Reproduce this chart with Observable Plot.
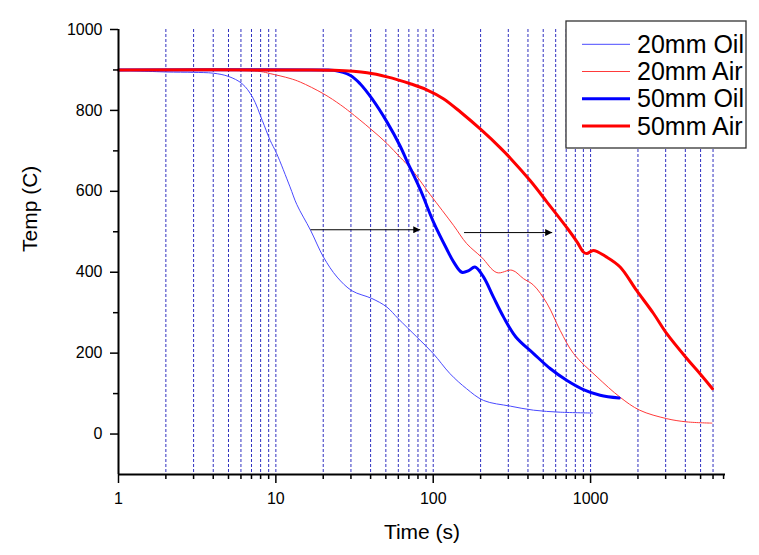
<!DOCTYPE html>
<html>
<head>
<meta charset="utf-8">
<script src="https://cdn.jsdelivr.net/npm/d3@7"></script>
<script src="https://cdn.jsdelivr.net/npm/@observablehq/plot@0.6"></script>
<style>
  html, body { margin: 0; padding: 0; background: white; }
  #chart { width: 759px; height: 555px; }
</style>
</head>
<body>
<div id="chart"></div>
<script>
// ---- Data ----
const seriesNames = ["20mm Oil", "20mm Air", "50mm Oil", "50mm Air"];

const oil20Time = [1, 2, 3, 4, 5, 6.1, 7.1, 8.2, 9.2, 10.1, 12.3, 13.6, 16.6, 20.1, 24.5, 30.5, 40.8, 50.7, 60, 78.6, 100, 128, 163, 209, 309, 434, 641, 1030];
const oil20Temp = [900, 895, 894, 892, 884, 866, 833, 775, 726, 694, 611, 567, 504, 437, 388, 354, 335, 314, 285, 240, 199, 149, 112, 83, 69, 59, 54, 52];

const air20Time = [1, 5, 8, 9.2, 12.3, 14.3, 20.1, 25.7, 29.6, 39.8, 50.9, 61.6, 71.5, 95.6, 134.5, 163, 203, 254, 317, 375, 434, 530, 641, 779, 1100, 1540, 2050, 3050, 4100, 5900];
const air20Temp = [900, 899, 896, 891, 879, 870, 841, 814, 796, 755, 718, 684, 658, 592, 516, 471, 437, 399, 405, 384, 368, 322, 256, 199, 141, 91, 59, 38, 30, 27];

const oil50Time = [1, 20, 23.4, 29.6, 34.3, 40.8, 50.9, 61.6, 67.5, 82.8, 100.4, 121.6, 135, 152, 168, 184, 209, 241, 280, 335, 434, 553, 704, 900, 1150, 1520];
const oil50Temp = [900, 900, 899, 887, 866, 829, 771, 712, 678, 604, 524, 458, 425, 400, 404, 413, 388, 339, 289, 240, 199, 162, 133, 110, 96, 89];

const air50Time = [1, 14.3, 23.4, 38, 50.9, 71.5, 91, 116, 149, 203, 266, 309, 414, 527, 723, 820, 900, 945, 1040, 1260, 1540, 1960, 2510, 3050, 4100, 4960, 5950];
const air50Temp = [900, 900, 899, 893, 883, 866, 851, 829, 796, 751, 708, 682, 626, 574, 505, 475, 450, 446, 454, 438, 413, 355, 298, 248, 186, 149, 112];

const arrowStartTime = [16.6, 157];
const arrowEndTime = [82.7, 570];
const arrowTemp = [505, 498];

const xMajorTicks = [1, 10, 100, 1000];
const xMinorTicks = [2,3,4,5,6,7,8,9, 20,30,40,50,60,70,80,90, 200,300,400,500,600,700,800,900, 2000,3000,4000,5000,6000,7000];
const xGridLines = [2,3,4,5,6,7,8,9,10, 20,30,40,50,60,70,80,90,100, 200,300,400,500,600,700,800,900,1000, 2000,3000,4000,5000,6000];
const yMajorTicks = [0, 200, 400, 600, 800, 1000];
const yMinorTicks = [100, 300, 500, 700, 900];

// ---- Build tables ----
const toRows = (ts, vs) => ts.map((t, i) => ({t, T: vs[i]}));
const oil20 = toRows(oil20Time, oil20Temp);
const air20 = toRows(air20Time, air20Temp);
const oil50 = toRows(oil50Time, oil50Temp);
const air50 = toRows(air50Time, air50Temp);
const arrows = arrowStartTime.map((t1, i) => ({t1, t2: arrowEndTime[i], T: arrowTemp[i]}));

const colors = ["#4a4aff", "#ff3a3a", "#0000ff", "#ff0000"];
const widths = [1, 1, 3, 3];
const font = "'Liberation Sans', Arial, sans-serif";

const chart = Plot.plot({
  width: 759,
  height: 555,
  marginLeft: 118,
  marginRight: 34,
  marginTop: 29,
  marginBottom: 81,
  x: {type: "log", domain: [1, 7200]},
  y: {domain: [-100, 1000]},
  style: {fontFamily: font, background: "white", color: "black"},
  marks: [
    Plot.ruleX(xGridLines, {stroke: "#3030c0", strokeWidth: 1, strokeDasharray: "3,2"}),
    Plot.line(oil20, {x: "t", y: "T", stroke: colors[0], strokeWidth: widths[0], curve: "catmull-rom"}),
    Plot.line(air20, {x: "t", y: "T", stroke: colors[1], strokeWidth: widths[1], curve: "catmull-rom"}),
    Plot.line(oil50, {x: "t", y: "T", stroke: colors[2], strokeWidth: widths[2], curve: "catmull-rom"}),
    Plot.line(air50, {x: "t", y: "T", stroke: colors[3], strokeWidth: widths[3], curve: "catmull-rom"}),
    Plot.link(arrows, {x1: "t1", x2: "t2", y1: "T", y2: "T", stroke: "black", strokeWidth: 1}),
    Plot.axisX(xMinorTicks, {tickSize: 5, tickFormat: () => "", strokeWidth: 1.5, label: null}),
    Plot.axisX(xMajorTicks, {tickSize: 9, tickPadding: 9, tickFormat: d => String(d), strokeWidth: 1.5, fontSize: 16, label: null}),
    Plot.axisY(yMinorTicks, {tickSize: 5, tickFormat: () => "", strokeWidth: 1.5, label: null}),
    Plot.axisY(yMajorTicks, {tickSize: 8, tickPadding: 8, tickFormat: d => String(d), strokeWidth: 1.5, fontSize: 16, label: null}),
    Plot.ruleY([-100], {stroke: "black", strokeWidth: 2}),
    Plot.ruleX([1], {stroke: "black", strokeWidth: 2}),
    Plot.text(["Time (s)"], {text: d => d, frameAnchor: "bottom", dy: 58, fontSize: 21, lineAnchor: "middle"}),
    Plot.text(["Temp (C)"], {text: d => d, frameAnchor: "left", rotate: -90, dx: -88, fontSize: 21, lineAnchor: "middle"})
  ]
});

document.getElementById("chart").appendChild(chart);

// ---- Filled arrow heads ----
const svg = d3.select(chart);
svg.append("defs").append("marker")
  .attr("id", "arrowhead")
  .attr("viewBox", "0 0 10 10")
  .attr("refX", 10).attr("refY", 5)
  .attr("markerUnits", "userSpaceOnUse")
  .attr("markerWidth", 12).attr("markerHeight", 7)
  .attr("orient", "auto")
  .append("path").attr("d", "M0,0L10,5L0,10Z").attr("fill", "black");
svg.selectAll('g[aria-label="link"] path').attr("marker-end", "url(#arrowhead)");

// ---- Legend ----
const lg = svg.append("g").attr("font-family", font).attr("text-anchor", "start");
lg.append("rect").attr("x", 566).attr("y", 21).attr("width", 180).attr("height", 127)
  .attr("fill", "white").attr("stroke", "#333").attr("stroke-width", 1.3);
seriesNames.forEach((name, i) => {
  const yy = 44.3 + i * 27.2;
  lg.append("line").attr("x1", 582).attr("x2", 630).attr("y1", yy).attr("y2", yy)
    .attr("stroke", colors[i]).attr("stroke-width", widths[i]);
  lg.append("text").attr("x", 637).attr("y", yy).attr("dy", "0.35em")
    .attr("text-anchor", "start")
    .attr("font-size", 25).attr("fill", "black").text(name);
});
</script>
</body>
</html>
